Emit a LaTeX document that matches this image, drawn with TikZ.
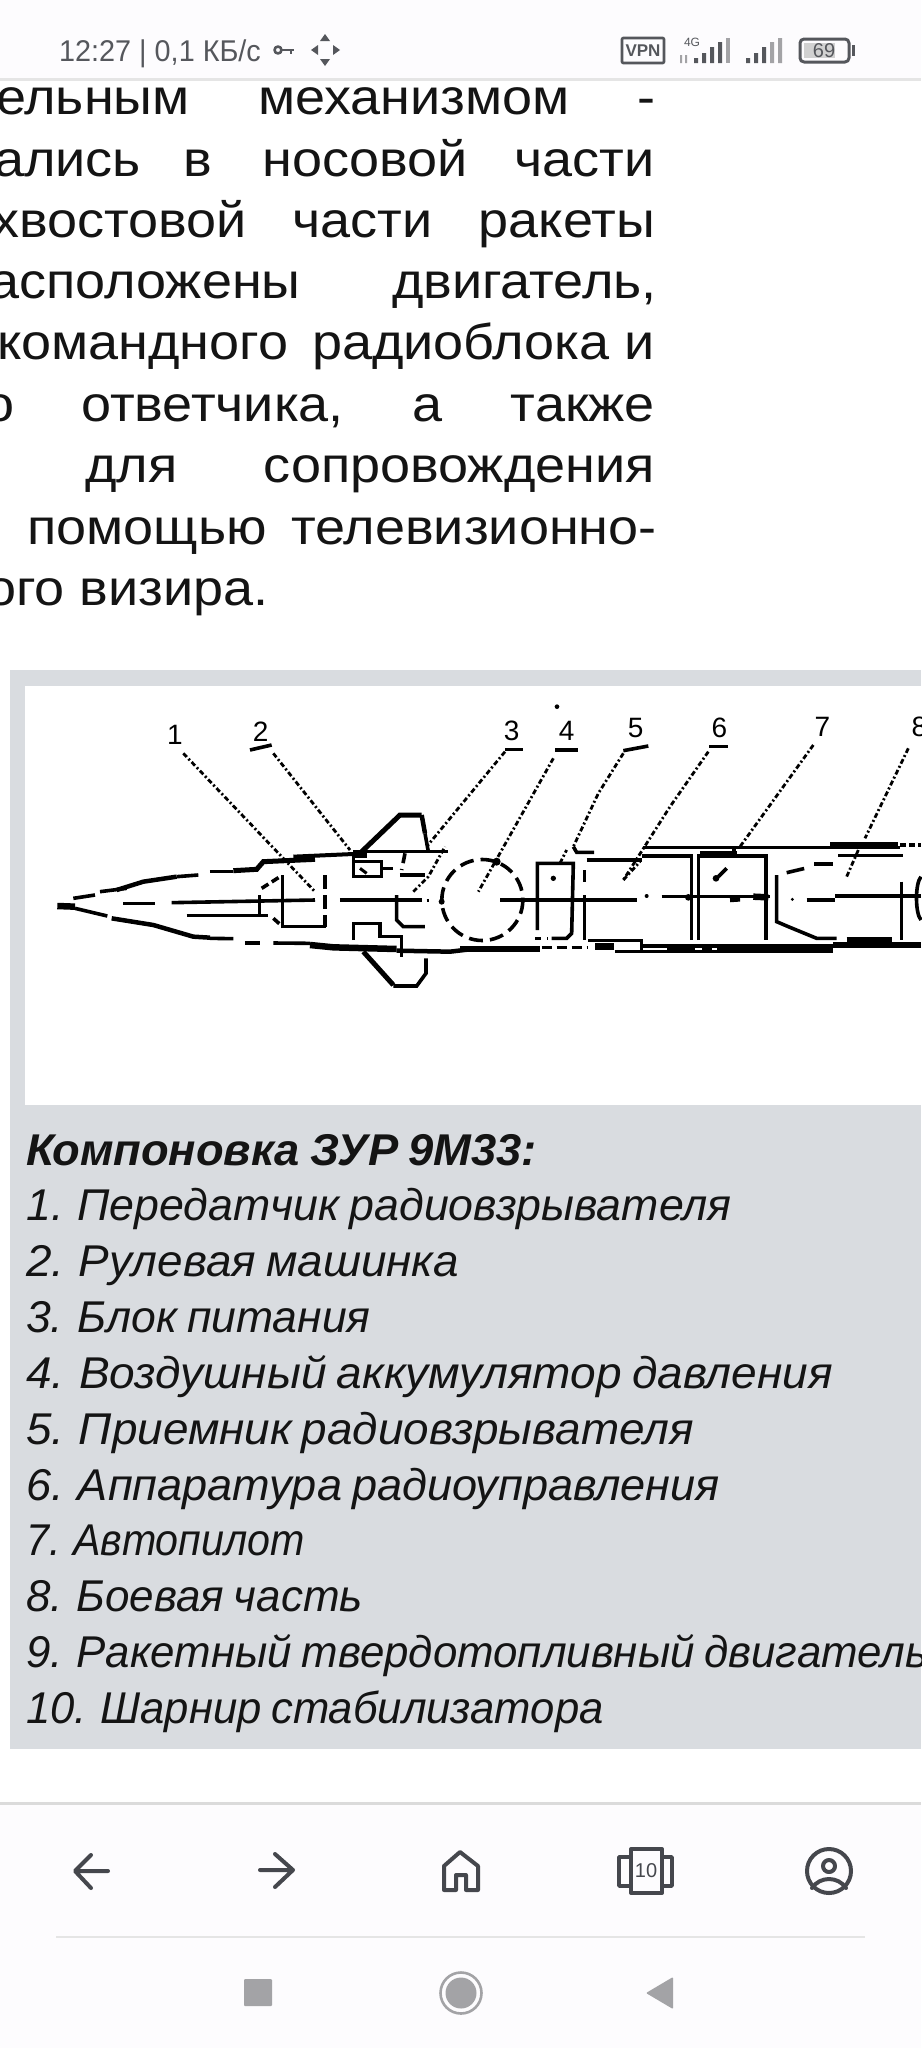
\documentclass[tikz,border=0pt]{standalone}
\usepackage{fontspec}
\setmainfont{Liberation Sans}
\newfontfamily\bodyfont[FakeStretch=1.08]{Liberation Sans}
\newfontfamily\capfont[WordSpace=0.8]{Liberation Sans}
\newfontfamily\statfont[FakeStretch=0.96]{Liberation Sans}
\newcommand{\capline}[2]{\scalebox{#1}[1]{#2}}
\definecolor{panel}{HTML}{D9DCE0}
\definecolor{barbg}{HTML}{FDFCFE}
\definecolor{txt}{HTML}{141414}
\definecolor{icon}{HTML}{45474D}
\definecolor{navgray}{HTML}{A3A3A6}
\definecolor{stat}{HTML}{55575C}
\tikzset{
  bodytxt/.style={anchor=base west,inner sep=0,text=txt,font=\bodyfont\fontsize{50}{50}\selectfont},
  bodyr/.style={anchor=base east,inner sep=0,text=txt,font=\bodyfont\fontsize{50}{50}\selectfont},
  captxt/.style={anchor=base west,inner sep=0,text=txt,font=\capfont\fontsize{44.5}{44.5}\selectfont\itshape},
  med ln/.style={line width=3.6pt,black},
  thick ln/.style={line width=6.5pt,black},
  leader/.style={line width=2.8pt,black,dash pattern=on 5pt off 2.5pt on 2pt off 2.5pt},
  dig/.style={inner sep=0,font=\fontsize{28}{28}\selectfont,text=black},
  navicon/.style={line width=4pt,icon,line cap=round,line join=round},
  staticon/.style={line width=2.6pt,stat,line join=round},
}
\begin{document}
\begin{tikzpicture}[x=1pt,y=-1pt]
\useasboundingbox (0,0) rectangle (921,2048);
\fill[white] (0,0) rectangle (921,2048);

% article text
\node[bodytxt] (t1a) at (-4,114) {ельным};
\node[bodytxt] (t1b) at (258,114) {механизмом};
\node[bodyr] (t1c) at (656,114) {-};
\node[bodytxt] (t2a) at (-6,176) {ались};
\node[bodytxt] (t2b) at (183,176) {в};
\node[bodytxt] (t2c) at (262,176) {носовой};
\node[bodyr] (t2d) at (655,176) {части};
\node[bodytxt] (t3a) at (-8,237) {хвостовой};
\node[bodytxt] (t3b) at (292,237) {части};
\node[bodyr] (t3c) at (655,237) {ракеты};
\node[bodytxt] (t4a) at (-11,298) {асположены};
\node[bodyr] (t4b) at (657,298) {двигатель,};
\node[bodytxt] (t5a) at (-3,359) {командного};
\node[bodytxt] (t5b) at (312,359) {радиоблока};
\node[bodyr] (t5c) at (655,359) {и};
\node[bodytxt] (t6a) at (-16,421) {о};
\node[bodytxt] (t6b) at (81,421) {ответчика,};
\node[bodytxt] (t6c) at (412,421) {а};
\node[bodyr] (t6d) at (655,421) {также};
\node[bodytxt] (t7a) at (85,482) {для};
\node[bodyr] (t7b) at (655,482) {сопровождения};
\node[bodytxt] (t8a) at (27,544) {помощью};
\node[bodyr] (t8b) at (657,544) {телевизионно-};
\node[bodytxt] (t9a) at (-14,605) {ого визира.};

% caption panel
\fill[panel] (10,670) rectangle (921,1749);
\fill[white] (25,686) rectangle (921,1105);
\node[captxt,font=\capfont\fontsize{44.5}{44.5}\selectfont\itshape\bfseries] (c0) at (26,1165) {\capline{1.018}{Компоновка ЗУР 9М33:}};
\node[captxt] (c1) at (26,1220) {\capline{1.004}{1. Передатчик радиовзрывателя}};
\node[captxt] (c2) at (26,1276) {\capline{1.03}{2. Рулевая машинка}};
\node[captxt] (c3) at (26,1332) {3. Блок питания};
\node[captxt] (c4) at (26,1388) {\capline{1.034}{4. Воздушный аккумулятор давления}};
\node[captxt] (c5) at (26,1444) {\capline{1.03}{5. Приемник радиовзрывателя}};
\node[captxt] (c6) at (26,1500) {\capline{1.013}{6. Аппаратура радиоуправления}};
\node[captxt] (c7) at (26,1555) {\capline{0.926}{7. Автопилот}};
\node[captxt] (c8) at (26,1611) {\capline{0.988}{8. Боевая часть}};
\node[captxt] (c9) at (26,1667) {\capline{0.985}{9. Ракетный твердотопливный двигатель}};
\node[captxt] (c10) at (26,1723) {\capline{0.98}{10. Шарнир стабилизатора}};

% rocket, left part (zoom coordinates)
\begin{scope}[shift={(20,690)},x=.33333pt,y=-.33333pt]
 \node[dig] (n1) at (465,134) {1};
 \node[dig] (n2) at (722,125) {2};
 \coordinate (e1) at (885,605);
 \coordinate (e2) at (990,480);
 \draw[leader] (490,190) -- (e1);
 \draw[leader] (760,190) -- (e2);
 \draw[med ln] (690,180) -- (755,165);
 % nose
 \draw[thick ln] (112,648) -- (165,650);
 \draw[med ln] (160,625) -- (225,615);
 \draw[med ln] (165,655) -- (262,678);
 \draw[med ln] (240,605) -- (320,595);
 \draw[thick ln,line width=4.5pt] (290,600) -- (370,575) -- (470,560);
 \draw[med ln] (470,560) -- (535,555);
 \draw[med ln] (570,545) -- (640,545);
 \draw[thick ln,line width=5pt] (640,542) -- (710,538) -- (730,515) -- (885,508);
 \draw[thick ln,line width=4pt] (820,500) -- (1000,492);
 \draw[med ln] (1000,485) -- (1285,485);
 \draw[thick ln] (1000,494) -- (1040,494);
 \draw[thick ln,line width=4.5pt] (275,685) -- (400,705) -- (520,740) -- (570,743);
 \draw[med ln] (570,745) -- (640,746);
 \draw[med ln] (675,759) -- (720,759);
 \draw[med ln] (760,759) -- (870,760);
 \draw[thick ln] (870,765) -- (940,772) -- (1130,777);
 \draw[thick ln,line width=4.5pt] (1130,782) -- (1290,785) -- (1350,778);
 % fins
 \draw[thick ln,line width=5pt] (1025,485) -- (1140,375) -- (1205,375);
 \draw[thick ln,line width=4.5pt] (1205,375) -- (1215,430);
 \draw[med ln] (1215,430) -- (1225,485);
 \draw[thick ln,line width=5pt] (1030,785) -- (1120,885);
 \draw[med ln] (1120,888) -- (1190,888) -- (1218,850) -- (1218,805);
 % inner parts
 \draw[med ln] (310,640) -- (405,640);
 \draw[med ln] (455,638) -- (885,630);
 \draw[med ln] (500,677) -- (745,677);
 \draw[med ln] (718,615) -- (718,675);
 \draw[med ln] (788,555) -- (788,710) -- (918,710);
 \draw[med ln,dash pattern=on 8pt off 4pt] (725,595) -- (780,560);
 \draw[med ln,dash pattern=on 8pt off 4pt] (760,685) -- (788,710);
 \draw[med ln,dash pattern=on 14pt off 6pt] (915,555) -- (915,710);
 \draw[med ln] (960,630) -- (1205,630);
 \draw[med ln] (1000,485) -- (1000,560) -- (1085,560) -- (1085,515) -- (1005,515);
 \draw[thick ln,line width=3pt] (1020,535) -- (1040,550);
 \draw[med ln] (1085,535) -- (1120,535);
 \draw[med ln,dash pattern=on 10pt off 6pt] (1155,490) -- (1145,540);
 \draw[med ln] (1140,555) -- (1215,555);
 \draw[leader] (1180,605) -- (1225,560) -- (1275,470);
 \draw[med ln] (1130,615) -- (1130,690) -- (1150,710) -- (1215,710);
 \draw[med ln] (1000,750) -- (1000,700) -- (1050,700);
 \draw[med ln] (1050,700) -- (1080,700) -- (1080,740) -- (1145,740);
 \draw[med ln] (1145,735) -- (1145,800);
 \draw[thick ln,line width=3pt] (1220,630) -- (1228,630);
 \fill[black] (1265,635) circle[radius=9];
\end{scope}

% rocket, right part (zoom coordinates)
\begin{scope}[shift={(460,690)},x=.33333pt,y=-.33333pt]
 \node[dig] (n3) at (155,122) {3};
 \node[dig] (n4) at (320,122) {4};
 \node[dig] (n5) at (527,115) {5};
 \node[dig] (n6) at (778,115) {6};
 \node[dig] (n7) at (1087,112) {7};
 \node[dig] (n8) at (1378,112) {8};
 \fill[black] (291,50) circle[radius=7];
 \draw[med ln] (135,178) -- (190,178);
 \draw[med ln] (285,180) -- (355,180);
 \draw[med ln] (490,182) -- (565,168);
 \draw[med ln] (748,170) -- (803,170);
 \coordinate (e3) at (-100,470);
 \coordinate (e4) at (55,605);
 \coordinate (e5) at (340,470);
 \coordinate (e6) at (490,570);
 \coordinate (e7) at (840,470);
 \coordinate (e8) at (1215,445);
 \draw[leader] (135,185) -- (e3);
 \draw[leader] (280,205) -- (e4);
 \draw[leader] (490,190) -- (415,310) -- (e5);
 \draw[leader] (745,185) -- (630,350) -- (e6);
 \draw[leader] (1060,165) -- (e7);
 \draw[leader] (1345,175) -- (e8);
 % circle
 \draw[med ln,dash pattern=on 14pt off 7pt] (67,630) circle[radius=121.5];
 \fill[black] (110,515) circle[radius=12];
 % top hull
 \draw[med ln] (548,472) -- (1320,472);
 \draw[med ln] (720,488) -- (830,488);
 \draw[med ln,dash pattern=on 6pt off 3pt] (1320,465) -- (1383,465);
 \draw[thick ln] (1110,466) -- (1315,466);
 \draw[med ln] (340,470) -- (350,487) -- (402,487);
 \draw[med ln] (380,510) -- (545,510);
 \draw[med ln] (545,498) -- (695,498) -- (695,750);
 \draw[med ln] (715,750) -- (715,498) -- (918,498) -- (918,750);
 \draw[med ln] (822,472) -- (822,498);
 % bottom hull
 \draw[thick ln] (0,777) -- (240,777);
 \draw[med ln,dash pattern=on 10pt off 5pt] (245,772) -- (385,772);
 \draw[thick ln] (405,770) -- (462,770);
 \draw[med ln] (385,752) -- (545,752) -- (545,785) -- (465,785);
 \draw[med ln] (545,768) -- (1120,768);
 \draw[med ln] (545,785) -- (1120,785);
 \draw[thick ln] (620,778) -- (705,778);
 \draw[thick ln] (725,778) -- (755,778);
 \draw[thick ln] (770,778) -- (1120,778);
 \draw[thick ln] (1120,765) -- (1383,765);
 \draw[thick ln] (1160,752) -- (1295,752);
 % centre line
 \draw[med ln] (120,630) -- (530,630);
 \fill[black] (560,618) circle[radius=6];
 \draw[med ln] (605,620) -- (930,620);
 \fill[black] (685,622) circle[radius=10];
 \draw[thick ln] (810,627) -- (840,625);
 \draw[thick ln] (880,620) -- (925,622);
 \draw[med ln] (1040,630) -- (1125,630);
 \draw[med ln] (1125,618) -- (1383,618);
 \fill[black] (997,628) circle[radius=5];
 % box 4
 \draw[med ln] (232,720) -- (232,520) -- (340,520) -- (335,730) -- (320,745) -- (275,745);
 \draw[med ln,dash pattern=on 6pt off 6pt] (225,745) -- (265,745);
 \draw[med ln,dash pattern=on 12pt off 5pt] (373,540) -- (373,590);
 \draw[med ln] (373,615) -- (373,750);
 \fill[black] (280,565) circle[radius=8];
 \draw[leader] (300,520) -- (320,480);
 % misc
 \fill[black] (768,565) circle[radius=10];
 \draw[med ln] (775,560) -- (800,535);
 \draw[med ln] (950,555) -- (950,695) -- (985,710) -- (1070,745) -- (1130,745);
 \draw[med ln,dash pattern=on 18pt off 9pt] (980,548) -- (1035,535);
 \draw[med ln] (1062,522) -- (1120,522);
 \draw[med ln] (1135,497) -- (1330,497);
 \draw[leader] (1195,480) -- (1160,560);
 \draw[med ln] (1325,575) -- (1325,750);
 \draw[med ln] (1383,560) .. controls (1365,580) and (1365,670) .. (1383,690);
 \draw[leader] (490,570) -- (540,515);
\end{scope}

% status bar
\fill[barbg] (0,0) rectangle (921,78);
\fill[black!10] (0,78) rectangle (921,81);
\node[anchor=base west,inner sep=0,text=stat,font=\statfont\fontsize{30}{30}\selectfont] (clock) at (59,61) {12:27 | 0,1 КБ/с};
\draw[staticon] (278,50) circle[radius=3.5];
\draw[staticon] (282,50) -- (294,50) (291,50) -- (291,54);
\fill[stat] (325,34) -- (320,41) -- (330,41) -- cycle
 (325,66) -- (320,59) -- (330,59) -- cycle
 (311,50) -- (318,45) -- (318,55) -- cycle
 (340,50) -- (333,45) -- (333,55) -- cycle;
\draw[staticon,rounded corners=1pt] (622,38) rectangle (664,63);
\node[inner sep=0,text=stat,font=\fontsize{17}{17}\selectfont\bfseries] (vpn) at (643,50.5) {VPN};
\node[inner sep=0,text=stat,font=\fontsize{12}{12}\selectfont] (g4) at (692,42) {4G};
\fill[stat] (694,58) rectangle (698,63) (702,53) rectangle (706,63) (710,47) rectangle (714,63) (718,42) rectangle (722,63);
\fill[navgray] (726,38) rectangle (730,63);
\fill[navgray] (680,55) rectangle (682,63) (685,55) rectangle (687,63);
\fill[stat] (746,58) rectangle (750,63) (754,53) rectangle (758,63) (762,47) rectangle (766,63);
\fill[navgray] (770,42) rectangle (774,63) (778,38) rectangle (782,63);
\draw[staticon,line width=3pt,rounded corners=4pt] (800,39) rectangle (849,62);
\fill[black!18] (804,43) rectangle (835,58);
\node[inner sep=0,text=stat,font=\fontsize{20}{20}\selectfont] (batt) at (824,51) {69};
\fill[stat] (852,45) rectangle (855,56);

% bottom bars
\fill[barbg] (0,1804) rectangle (921,2048);
\fill[black!14] (0,1802) rectangle (921,1805);
\draw[black!10,line width=1.2pt] (56,1937) -- (865,1937);
\draw[navicon] (108,1871) -- (76,1871) (91,1855) -- (75,1871) -- (91,1888);
\draw[navicon] (260,1870) -- (292,1870) (275,1854) -- (293,1870) -- (275,1887);
\draw[navicon] (444,1890) -- (444,1866) -- (460,1852) -- (478,1866) -- (478,1890) -- (466,1890) -- (466,1875) -- (456,1875) -- (456,1890) -- cycle;
\draw[navicon] (631,1849) rectangle (662,1893);
\draw[navicon,line width=3.5pt] (631,1857) -- (619,1857) -- (619,1886) -- (631,1886);
\draw[navicon,line width=3.5pt] (662,1857) -- (672,1857) -- (672,1886) -- (662,1886);
\node[inner sep=0,text=icon,font=\fontsize{20}{20}\selectfont] (tabs) at (646,1871) {10};
\draw[navicon] (829,1871) circle[radius=22];
\draw[navicon] (829,1866) circle[radius=6];
\draw[navicon] (812,1888) .. controls (820,1876) and (838,1876) .. (846,1888);
\fill[navgray,rounded corners=1pt] (244,1979) rectangle (272,2006);
\draw[navgray,line width=2.6pt] (461,1993) circle[radius=20.5];
\fill[navgray] (461,1993) circle[radius=15.5];
\fill[navgray,rounded corners=1pt] (673,1977) -- (673,2009) -- (646,1993) -- cycle;
\end{tikzpicture}
\end{document}
